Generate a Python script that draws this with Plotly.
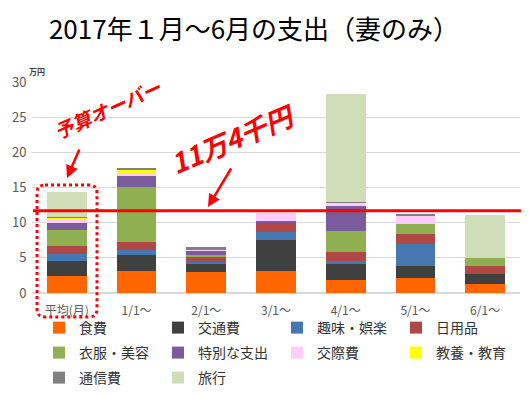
import plotly.graph_objects as go

categories = ["平均(月)", "1/1～", "2/1～", "3/1～", "4/1～", "5/1～", "6/1～"]
food = [2.4, 3.1, 2.93, 3.15, 1.9, 2.1, 1.25]
transport = [2.2, 2.25, 1.15, 4.4, 2.2, 1.75, 1.45]
hobby = [0.95, 0.75, 0.33, 1.15, 0.45, 3.1, 0]
daily = [1.2, 1.15, 0.65, 1.2, 1.3, 1.5, 1.15]
clothes = [2.2, 7.8, 0.33, 0, 3.0, 1.35, 1.1]
special = [1.05, 1.55, 0.55, 0.4, 3.5, 0, 0]
social = [0.55, 0.5, 0.3, 1.1, 0.45, 1.15, 0]
education = [0.15, 0.45, 0, 0, 0, 0, 0]
telecom = [0.15, 0.25, 0.28, 0, 0.15, 0.2, 0]
travel = [3.55, 0, 0, 0, 15.3, 0, 6.2]
budget_line = 11.7

series = [
    ("食費", food, "#FF6600", "legend"),
    ("交通費", transport, "#404040", "legend"),
    ("趣味・娯楽", hobby, "#4677B0", "legend"),
    ("日用品", daily, "#B04848", "legend"),
    ("衣服・美容", clothes, "#8FAF50", "legend2"),
    ("特別な支出", special, "#7A5C9C", "legend2"),
    ("交際費", social, "#FFCCFF", "legend2"),
    ("教養・教育", education, "#FFFF00", "legend2"),
    ("通信費", telecom, "#808080", "legend3"),
    ("旅行", travel, "#D0DDB8", "legend3"),
]

FONT = "Noto Sans CJK JP"
fig = go.Figure()
for name, vals, color, lg in series:
    fig.add_trace(go.Bar(x=categories, y=vals, name=name, marker_color=color,
                         marker_line_width=0, legend=lg))

# page has an 8px body margin: figure occupies page pixels 8..529 / 8..396
OFF = 8
W, H = 529 - OFF, 396 - OFF
L, T = 32 - OFF, 82 - OFF
R = W - (520 - OFF)
B = H - (293 - OFF)
PW, PH = W - L - R, H - T - B

def px(x):  # page pixel x -> paper x
    return (x - OFF - L) / PW

def py(y):  # page pixel y -> paper y
    return (H - B - (y - OFF)) / PH

def cx(x):
    return (x - OFF) / W

def cy(y):
    return 1 - (y - OFF) / H

legend_common = dict(orientation="h", entrywidth=74, entrywidthmode="pixels",
                     font=dict(family=FONT, size=14, color="#333333"),
                     xanchor="left", yanchor="middle", bgcolor="rgba(0,0,0,0)",
                     traceorder="normal", xref="container", yref="container")

fig.update_layout(
    width=W, height=H,
    margin=dict(l=L, r=R, t=T, b=B, autoexpand=False),
    barmode="stack", bargap=0.43,
    paper_bgcolor="white", plot_bgcolor="white",
    title=dict(text="2017年１月～6月の支出（妻のみ）", x=cx(254), xanchor="center",
               y=cy(30), yanchor="middle",
               font=dict(family=FONT, size=26, color="#000000")),
    font=dict(family=FONT),
    legend=dict(x=cx(39), y=cy(328), **legend_common),
    legend2=dict(x=cx(39), y=cy(353), **legend_common),
    legend3=dict(x=cx(39), y=cy(378), **legend_common),
    xaxis=dict(tickfont=dict(family=FONT, size=12, color="#595959"),
               showline=False, ticks="outside", ticklen=7,
               tickcolor="rgba(0,0,0,0)"),
    yaxis=dict(range=[0, 30], dtick=5, showgrid=True, gridcolor="#D9D9D9",
               zeroline=True, zerolinecolor="#D9D9D9",
               tickfont=dict(family=FONT, size=13, color="#595959"),
               ticks="outside", ticklen=2, tickcolor="rgba(0,0,0,0)"),
    showlegend=True,
)

# budget line
fig.add_shape(type="line", xref="paper", yref="y", x0=px(33), x1=px(529),
              y0=budget_line, y1=budget_line, line=dict(color="#FF0000", width=3))

# dotted rounded box around average bar
x0, x1 = px(37), px(97)
y0, y1 = py(317), py(185)
rx, ry = 8 / PW, 8 / PH
path = (f"M {x0+rx},{y1} L {x1-rx},{y1} Q {x1},{y1} {x1},{y1-ry} "
        f"L {x1},{y0+ry} Q {x1},{y0} {x1-rx},{y0} L {x0+rx},{y0} "
        f"Q {x0},{y0} {x0},{y0+ry} L {x0},{y1-ry} Q {x0},{y1} {x0+rx},{y1} Z")
fig.add_shape(type="path", xref="paper", yref="paper", path=path,
              line=dict(color="#FF0000", width=3, dash="dot"))

# annotations
fig.add_annotation(text="<b><i>予算オーバー</i></b>", xref="paper", yref="paper",
                   x=px(107), y=py(108), xanchor="center", yanchor="middle",
                   showarrow=False, textangle=-24,
                   font=dict(family=FONT, size=19, color="#FF0000"))
fig.add_annotation(text="<b><i>11万4千円</i></b>", xref="paper", yref="paper",
                   x=px(232), y=py(138), xanchor="center", yanchor="middle",
                   showarrow=False, textangle=-23,
                   font=dict(family=FONT, size=27, color="#FF0000"))
fig.add_annotation(text="", xref="paper", yref="paper", x=px(67), y=py(178),
                   ax=13, ay=-30, showarrow=True, arrowhead=2, arrowsize=1,
                   arrowwidth=2.5, arrowcolor="#FF0000")
fig.add_annotation(text="", xref="paper", yref="paper", x=px(208), y=py(207),
                   ax=24, ay=-40, showarrow=True, arrowhead=2, arrowsize=1,
                   arrowwidth=2.5, arrowcolor="#FF0000")
fig.add_annotation(text="<b>万円</b>", xref="paper", yref="paper",
                   x=px(37), y=py(71), xanchor="center", yanchor="middle",
                   showarrow=False,
                   font=dict(family=FONT, size=8, color="#404040"))

fig.write_html("out.html")
